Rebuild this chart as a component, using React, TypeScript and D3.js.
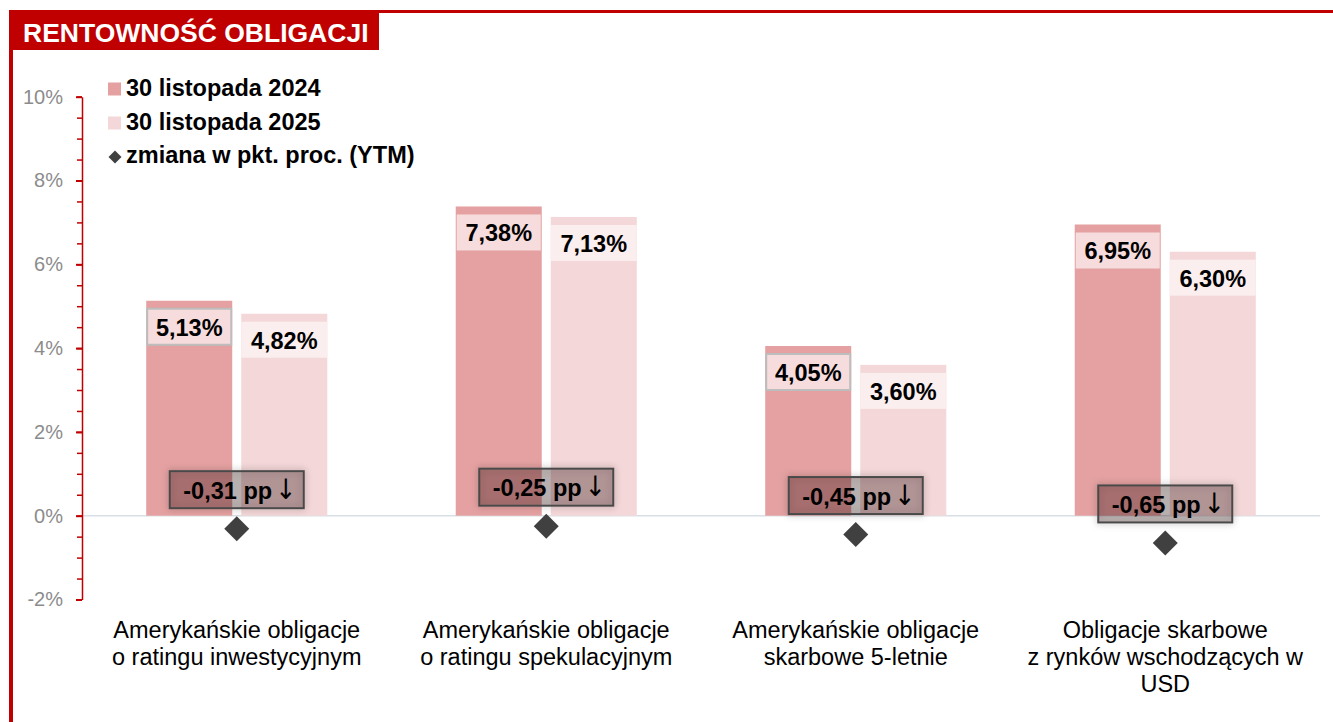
import React, { useEffect, useRef } from 'react';
import * as d3 from 'd3';

// Chart data
const categories: string[][] = [
  ['Amerykańskie obligacje', 'o ratingu inwestycyjnym'],
  ['Amerykańskie obligacje', 'o ratingu spekulacyjnym'],
  ['Amerykańskie obligacje', 'skarbowe 5-letnie'],
  ['Obligacje skarbowe', 'z rynków wschodzących w', 'USD'],
];
const seriesNames = ['30 listopada 2024', '30 listopada 2025'];
const values2024 = [5.13, 7.38, 4.05, 6.95];
const values2025 = [4.82, 7.13, 3.6, 6.3];
const changePp = [-0.31, -0.25, -0.45, -0.65];
const yTicks = [-2, 0, 2, 4, 6, 8, 10];
const changeLegend = 'zmiana w pkt. proc. (YTM)';
const title = 'RENTOWNOŚĆ OBLIGACJI';

const fmt = (v: number) => v.toFixed(2).replace('.', ',');

const App = () => {
  const chartRef = useRef<SVGSVGElement | null>(null);

  useEffect(() => {
    const width = 1333;
    const height = 722;
    const red = '#c00000';
    const colors = ['#e5a1a1', '#f4d7d8'];
    const labelFills = ['#f6dcdc', '#fbeeee'];
    const font = 'Liberation Sans, Arial, sans-serif';

    const svg = d3.select(chartRef.current);
    svg.selectAll('*').remove();

    // Drop shadow for the change boxes
    const defs = svg.append('defs');
    const filter = defs.append('filter')
      .attr('id', 'soft')
      .attr('x', '-20%').attr('y', '-40%')
      .attr('width', '140%').attr('height', '180%');
    filter.append('feDropShadow')
      .attr('dx', 0).attr('dy', 0)
      .attr('stdDeviation', 3.5)
      .attr('flood-color', '#000')
      .attr('flood-opacity', 0.35);

    // Frame
    svg.append('rect').attr('x', 9).attr('y', 10).attr('width', width - 9).attr('height', 3).attr('fill', red);
    svg.append('rect').attr('x', 9).attr('y', 10).attr('width', 4).attr('height', height - 10).attr('fill', red);
    svg.append('rect').attr('x', 13).attr('y', 12).attr('width', 366).attr('height', 38).attr('fill', red);
    svg.append('text')
      .attr('x', 23).attr('y', 41.5)
      .style('font-family', font).style('font-size', '26.5px').style('font-weight', 'bold')
      .style('fill', '#fff')
      .text(title);

    // Scales
    const x0 = d3.scaleBand<number>()
      .domain(d3.range(categories.length))
      .range([82, 1320])
      .paddingInner(0.415)
      .paddingOuter(0.2075);
    const x1 = d3.scaleBand<number>()
      .domain([0, 1])
      .range([0, x0.bandwidth()])
      .paddingInner(0.095);
    const y = d3.scaleLinear().domain([-2, 10]).range([599.5, 96.7]);

    // Zero line
    svg.append('line')
      .attr('x1', 82).attr('x2', 1320)
      .attr('y1', y(0)).attr('y2', y(0))
      .attr('stroke', '#d9dfe6').attr('stroke-width', 1.5);

    // Minor ticks
    const minorAxis = d3.axisLeft(y)
      .tickValues(d3.range(-2, 10.01, 0.5))
      .tickSize(5)
      .tickSizeOuter(0)
      .tickFormat(() => '');
    const gMinor = svg.append('g').attr('transform', 'translate(82,0)').call(minorAxis);
    gMinor.selectAll('line').attr('stroke', red).attr('stroke-width', 1.5);
    gMinor.select('.domain').attr('stroke', red).attr('stroke-width', 1.5);

    // Major ticks + labels
    const yAxis = d3.axisLeft(y)
      .tickValues(yTicks)
      .tickSize(6)
      .tickSizeOuter(0)
      .tickPadding(13)
      .tickFormat(d => `${d}%`);
    const gAxis = svg.append('g').attr('transform', 'translate(82,0)').call(yAxis);
    gAxis.select('.domain').remove();
    gAxis.selectAll('line').attr('stroke', red).attr('stroke-width', 2);
    gAxis.selectAll('text')
      .style('font-family', font).style('font-size', '20px')
      .style('fill', '#8c8c8c');

    // Bars
    const series = [values2024, values2025];
    series.forEach((vals, s) => {
      const g = svg.append('g');
      g.selectAll('rect')
        .data(vals)
        .enter()
        .append('rect')
        .attr('x', (_, i) => (x0(i) as number) + (x1(s) as number))
        .attr('y', d => y(d))
        .attr('width', x1.bandwidth())
        .attr('height', d => y(0) - y(d))
        .attr('fill', colors[s]);
    });

    // Value labels
    series.forEach((vals, s) => {
      const g = svg.append('g');
      const lab = g.selectAll('g')
        .data(vals)
        .enter()
        .append('g')
        .attr('transform', (d, i) => `translate(${(x0(i) as number) + (x1(s) as number)},${y(d) + 8})`);
      lab.append('rect')
        .attr('x', s === 0 ? 1 : 0)
        .attr('width', x1.bandwidth() - (s === 0 ? 2 : 0))
        .attr('height', 36)
        .attr('fill', labelFills[s])
        .attr('stroke', (_, i) => (s === 0 && i % 2 === 0 ? '#bdbdbd' : 'none'))
        .attr('stroke-width', 2);
      lab.append('text')
        .attr('x', x1.bandwidth() / 2)
        .attr('y', 27)
        .attr('text-anchor', 'middle')
        .style('font-family', font).style('font-size', '23.5px').style('font-weight', 'bold')
        .style('fill', '#000')
        .text(d => `${fmt(d)}%`);
    });

    // Change markers
    const diamond = d3.symbol().type(d3.symbolSquare).size(312);
    const gChange = svg.append('g');
    const ch = gChange.selectAll('g')
      .data(changePp)
      .enter()
      .append('g')
      .attr('transform', (d, i) => `translate(${(x0(i) as number) + x0.bandwidth() / 2},${y(d)})`);
    ch.append('path')
      .attr('d', diamond() as string)
      .attr('transform', 'rotate(45)')
      .attr('fill', '#404040');
    ch.append('rect')
      .attr('x', -67)
      .attr('y', -57.5)
      .attr('width', 134)
      .attr('height', 37)
      .attr('fill', 'rgba(40,0,0,0.25)')
      .attr('stroke', '#4a4a4a')
      .attr('stroke-width', 2)
      .attr('filter', 'url(#soft)');
    const chText = ch.append('text')
      .attr('x', 3)
      .attr('y', -30)
      .attr('text-anchor', 'middle')
      .style('font-family', font).style('font-size', '23.5px').style('font-weight', 'bold')
      .style('fill', '#000');
    chText.append('tspan').text(d => `${fmt(d)} pp`);
    chText.append('tspan')
      .attr('dx', 3)
      .style('font-family', 'DejaVu Sans Condensed, DejaVu Sans')
      .style('font-weight', 'normal')
      .style('font-size', '28px')
      .style('fill', '#000')
      .text(d => (d < 0 ? '\u2193' : '\u2191'));

    // Category labels
    const gCat = svg.append('g');
    categories.forEach((lines, i) => {
      const t = gCat.append('text')
        .attr('x', (x0(i) as number) + x0.bandwidth() / 2)
        .attr('y', 638)
        .attr('text-anchor', 'middle')
        .style('font-family', font).style('font-size', '23.5px')
        .style('fill', '#000');
      lines.forEach((line, k) => {
        t.append('tspan')
          .attr('x', (x0(i) as number) + x0.bandwidth() / 2)
          .attr('dy', k === 0 ? 0 : 27)
          .text(line);
      });
    });

    // Legend
    const legend = svg.append('g');
    const legendY = [96, 130, 163];
    seriesNames.forEach((name, s) => {
      legend.append('rect')
        .attr('x', 108).attr('y', legendY[s] - 13.5)
        .attr('width', 13).attr('height', 13)
        .attr('fill', colors[s]);
      legend.append('text')
        .attr('x', 126).attr('y', legendY[s])
        .style('font-family', font).style('font-size', '23.5px').style('font-weight', 'bold')
        .text(name);
    });
    legend.append('path')
      .attr('d', d3.symbol().type(d3.symbolSquare).size(85)() as string)
      .attr('transform', `translate(115,${legendY[2] - 6}) rotate(45)`)
      .attr('fill', '#404040');
    legend.append('text')
      .attr('x', 126).attr('y', legendY[2])
      .style('font-family', font).style('font-size', '23.5px').style('font-weight', 'bold')
      .text(changeLegend);
  }, []);

  return (
    <svg
      ref={chartRef}
      width={1333}
      height={722}
      style={{ position: 'absolute', left: 0, top: 0, background: '#fff' }}
    />
  );
};

export default App;
